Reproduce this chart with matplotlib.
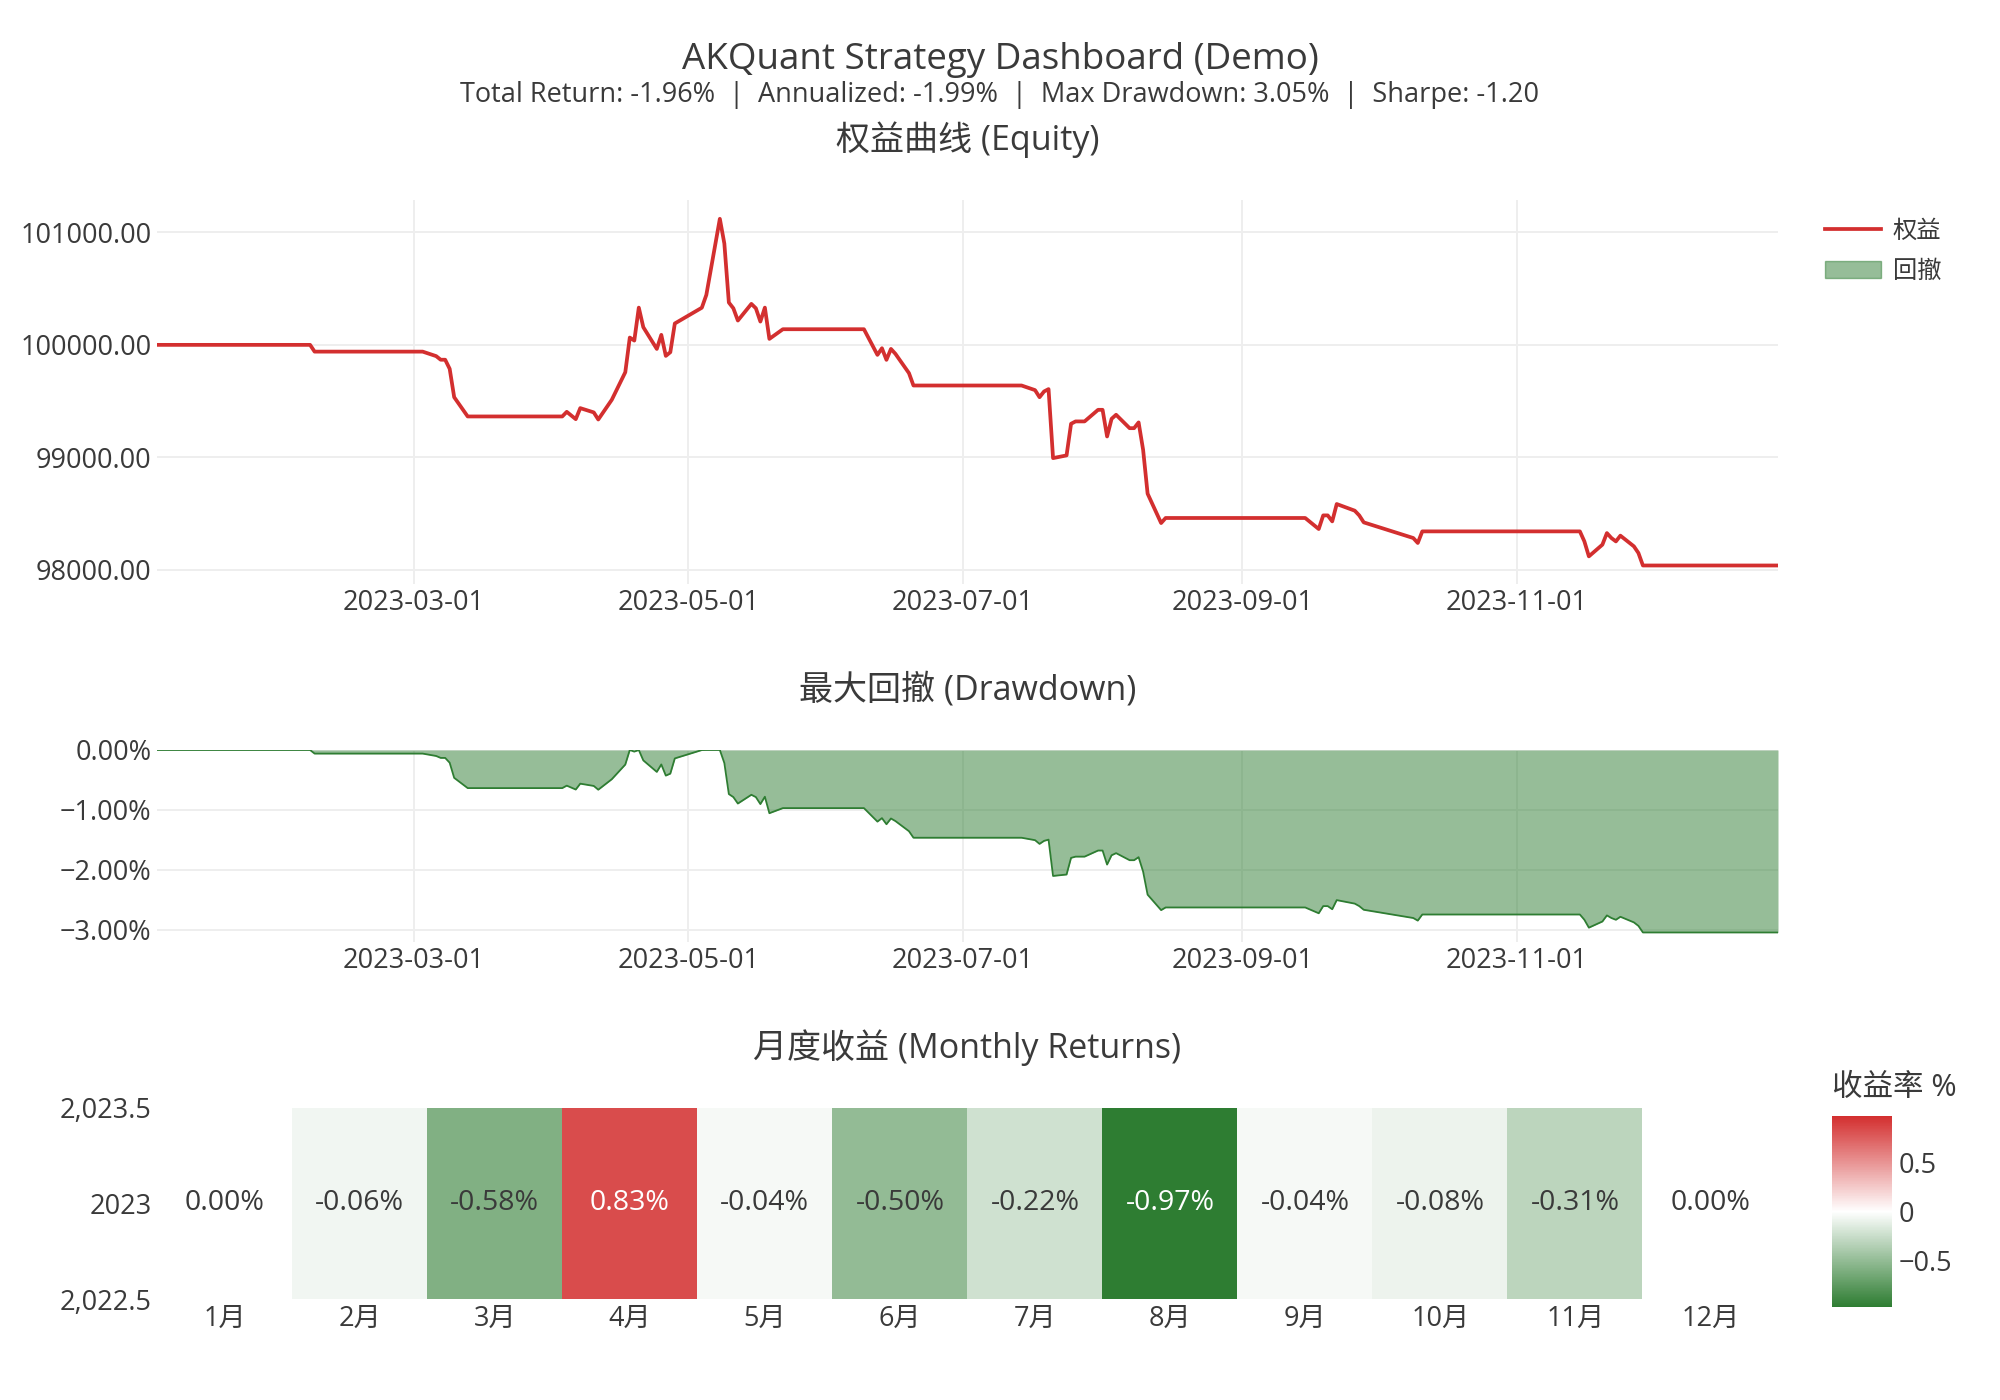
import numpy as np
import pandas as pd
import matplotlib
matplotlib.use("Agg")
import matplotlib.pyplot as plt
import matplotlib.dates as mdates
from matplotlib.colors import LinearSegmentedColormap
from matplotlib.lines import Line2D
from matplotlib.patches import Patch
from matplotlib.ticker import FuncFormatter

plt.rcParams["font.family"] = ["Open Sans", "Noto Sans CJK SC", "DejaVu Sans"]
plt.rcParams["axes.unicode_minus"] = True

TEXT = "#3a3a3a"
GRID = "#eeeeee"
RED = "#d32f2f"
GREEN = "#2e7d32"

# equity curve, vertices
dates = [
    "2023-01-03", "2023-02-06", "2023-02-07", "2023-03-03", "2023-03-06", "2023-03-07",
    "2023-03-08", "2023-03-09", "2023-03-10", "2023-03-13", "2023-04-03", "2023-04-04",
    "2023-04-06", "2023-04-07", "2023-04-10", "2023-04-11", "2023-04-14", "2023-04-17",
    "2023-04-18", "2023-04-19", "2023-04-20", "2023-04-21", "2023-04-24", "2023-04-25",
    "2023-04-26", "2023-04-27", "2023-04-28", "2023-05-04", "2023-05-05", "2023-05-08",
    "2023-05-09", "2023-05-10", "2023-05-11", "2023-05-12", "2023-05-15", "2023-05-16",
    "2023-05-17", "2023-05-18", "2023-05-19", "2023-05-22", "2023-06-09", "2023-06-12",
    "2023-06-13", "2023-06-14", "2023-06-15", "2023-06-16", "2023-06-19", "2023-06-20",
    "2023-07-14", "2023-07-17", "2023-07-18", "2023-07-19", "2023-07-20", "2023-07-21",
    "2023-07-24", "2023-07-25", "2023-07-26", "2023-07-28", "2023-07-31", "2023-08-01",
    "2023-08-02", "2023-08-03", "2023-08-04", "2023-08-07", "2023-08-08", "2023-08-09",
    "2023-08-10", "2023-08-11", "2023-08-14", "2023-08-15", "2023-09-15", "2023-09-18",
    "2023-09-19", "2023-09-20", "2023-09-21", "2023-09-22", "2023-09-26", "2023-09-27",
    "2023-09-28", "2023-10-09", "2023-10-10", "2023-10-11", "2023-11-15", "2023-11-16",
    "2023-11-17", "2023-11-20", "2023-11-21", "2023-11-22", "2023-11-23", "2023-11-24",
    "2023-11-27", "2023-11-28", "2023-11-29", "2023-12-29",
]
equity = [
    100000, 100000, 99940, 99940, 99900, 99868,
    99868, 99787, 99535, 99364, 99364, 99405,
    99340, 99438, 99400, 99337, 99512, 99757,
    100065, 100038, 100331, 100157, 99964, 100089,
    99902, 99935, 100190, 100330, 100444, 101120,
    100900, 100376, 100325, 100216, 100364, 100325,
    100207, 100331, 100053, 100139, 100139, 99911,
    99970, 99867, 99964, 99920, 99749, 99639,
    99639, 99598, 99535, 99586, 99607, 98994,
    99018, 99299, 99320, 99320, 99423, 99423,
    99186, 99343, 99379, 99260, 99260, 99311,
    99068, 98678, 98417, 98462, 98462, 98364,
    98485, 98485, 98432, 98586, 98527, 98485,
    98423, 98284, 98240, 98343, 98343, 98254,
    98121, 98225, 98328, 98284, 98254, 98305,
    98210, 98151, 98040, 98040,
]

months = ["1月", "2月", "3月", "4月", "5月", "6月", "7月", "8月", "9月", "10月", "11月", "12月"]
monthly_ret = [0.00, -0.06, -0.58, 0.83, -0.04, -0.50, -0.22, -0.97, -0.04, -0.08, -0.31, 0.00]
year = 2023

title = "AKQuant Strategy Dashboard (Demo)"
subtitle = "Total Return: -1.96%  |  Annualized: -1.99%  |  Max Drawdown: 3.05%  |  Sharpe: -1.20"

df = pd.DataFrame({"date": pd.to_datetime(dates), "equity": equity})
df["drawdown"] = (df["equity"] / df["equity"].cummax() - 1) * 100

W, H = 2000, 1400
fig = plt.figure(figsize=(20, 14), dpi=100)


def box(l, t, r, b):
    return [l / W, 1 - b / H, (r - l) / W, (b - t) / H]


def style(ax, grid=True):
    for s in ax.spines.values():
        s.set_visible(False)
    ax.tick_params(length=0, labelsize=19.5, labelcolor=TEXT, pad=4)
    if grid:
        ax.grid(True, color=GRID, linewidth=1.4)
        ax.set_axisbelow(True)


ax1 = fig.add_axes(box(157, 200, 1778, 583.5))
ax2 = fig.add_axes(box(157, 750, 1778, 941.7))
ax3 = fig.add_axes(box(157, 1107.7, 1778, 1299.3))
cax = fig.add_axes(box(1832, 1116, 1891.6, 1307))

xmin, xmax = df["date"].min(), df["date"].max()
date_fmt = mdates.DateFormatter("%Y-%m-%d")

# equity
style(ax1)
ax1.plot(df["date"], df["equity"], color=RED, linewidth=2.7, label="权益")
ax1.set_xlim(xmin, xmax)
ax1.set_ylim(97880, 101287)
ax1.set_yticks([98000, 99000, 100000, 101000])
ax1.yaxis.set_major_formatter(FuncFormatter(lambda v, _: f"{v:.2f}"))
ax1.xaxis.set_major_locator(mdates.MonthLocator(bymonth=[3, 5, 7, 9, 11]))
ax1.xaxis.set_major_formatter(date_fmt)

# drawdown
style(ax2)
ax2.fill_between(df["date"], df["drawdown"], 0, color=GREEN, alpha=0.5, linewidth=0)
ax2.plot(df["date"], df["drawdown"], color=GREEN, linewidth=1.3)
ax2.set_xlim(xmin, xmax)
ax2.set_ylim(-3.2, 0)
ax2.set_yticks([0, -1, -2, -3])
ax2.yaxis.set_major_formatter(FuncFormatter(lambda v, _: f"{v:.2f}%".replace("-", "\u2212")))
ax2.xaxis.set_major_locator(mdates.MonthLocator(bymonth=[3, 5, 7, 9, 11]))
ax2.xaxis.set_major_formatter(date_fmt)

# monthly heatmap
style(ax3, grid=False)
cmap = LinearSegmentedColormap.from_list("rg", [GREEN, "#ffffff", RED], N=257)
vmax = max(abs(v) for v in monthly_ret)
im = ax3.imshow(np.array([monthly_ret]), cmap=cmap, vmin=-vmax, vmax=vmax,
                extent=(-0.5, len(months) - 0.5, year - 0.5, year + 0.5),
                aspect="auto", origin="lower", interpolation="nearest")
ax3.set_xticks(range(len(months)))
ax3.set_xticklabels(months)
ax3.set_yticks([year - 0.5, year, year + 0.5])
ax3.set_yticklabels([f"{year - 0.5:,.1f}", f"{year}", f"{year + 0.5:,.1f}"])
for i, v in enumerate(monthly_ret):
    ax3.text(i, year, f"{v:.2f}%", ha="center", va="center", fontsize=20.5,
             color="white" if abs(v) > 0.7 else TEXT)

cb = fig.colorbar(im, cax=cax, ticks=[-0.5, 0, 0.5])
cb.outline.set_visible(False)
cax.tick_params(length=0, labelsize=19.5, labelcolor=TEXT, pad=5)
cax.set_yticklabels(["\u22120.5", "0", "0.5"])
fig.text(1832 / W, 1 - 1088 / H, "收益率 %", ha="left", va="center", fontsize=22, color=TEXT)

# titles
fig.text(0.5, 1 - 60 / H, title, ha="center", va="center", fontsize=26.5, color=TEXT)
fig.text(0.5, 1 - 95 / H, subtitle, ha="center", va="center", fontsize=19.5, color=TEXT)
cx = (157 + 1778) / 2 / W
fig.text(cx, 1 - 140 / H, "权益曲线 (Equity)", ha="center", va="center", fontsize=24.5, color=TEXT)
fig.text(cx, 1 - 690 / H, "最大回撤 (Drawdown)", ha="center", va="center", fontsize=24.5, color=TEXT)
fig.text(cx, 1 - 1048 / H, "月度收益 (Monthly Returns)", ha="center", va="center", fontsize=24.5, color=TEXT)

handles = [
    Line2D([], [], color=RED, linewidth=2.7),
    Patch(facecolor=GREEN, alpha=0.5, edgecolor=GREEN, linewidth=1.0),
]
fig.legend(handles, ["权益", "回撤"], loc="upper left", bbox_to_anchor=(1815 / W, 1 - 210 / H),
           frameon=False, fontsize=17.5, labelcolor=TEXT, handlelength=2.3,
           handletextpad=0.5, labelspacing=0.65, borderaxespad=0)

fig.savefig("out.png", dpi=100, facecolor="white")
